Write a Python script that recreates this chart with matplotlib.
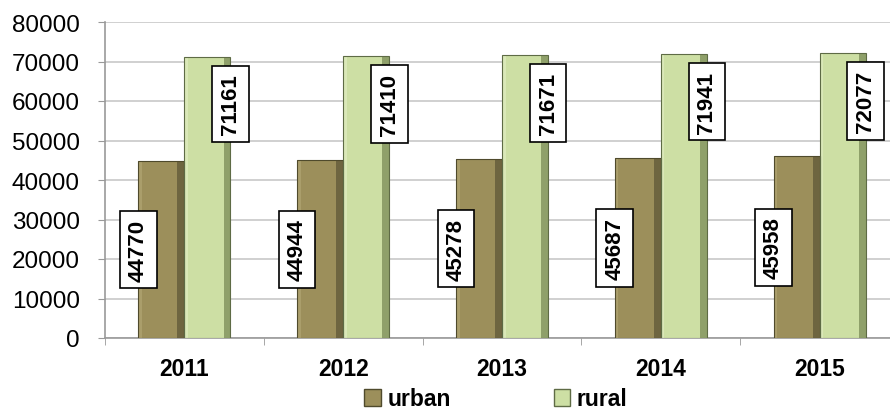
import matplotlib
matplotlib.use("Agg")
import matplotlib.pyplot as plt
import numpy as np
from matplotlib.patches import Rectangle

years = ["2011", "2012", "2013", "2014", "2015"]
urban = [44770, 44944, 45278, 45687, 45958]
rural = [71161, 71410, 71671, 71941, 72077]
yticks = [0, 10000, 20000, 30000, 40000, 50000, 60000, 70000, 80000]

plt.rcParams['font.family'] = ['Liberation Sans', 'DejaVu Sans']

label_size = 16
label_pad = 0.35

fig = plt.figure(figsize=(8.9, 4.14), dpi=100)
ax = fig.add_axes([105/890, 75/414, 794/890, 316/414])

x = np.arange(len(years))
w = 0.29
urban_c = "#9C8F5B"
rural_c = "#CDDFA4"

b1 = ax.bar(x - w/2, urban, w, color=urban_c, edgecolor="#4F4A2C", linewidth=0.8, zorder=3)
b2 = ax.bar(x + w/2, rural, w, color=rural_c, edgecolor="#5E6B45", linewidth=0.8, zorder=3)

# bevel-like shading on bars
for bars, c, dark, light in ((b1, urban_c, "#6E6540", "#B5A977"),
                             (b2, rural_c, "#8FA06A", "#E4EFC6")):
    for r in bars:
        bx, by = r.get_x(), r.get_y()
        bw, bh = r.get_width(), r.get_height()
        r.set_facecolor("none")
        r.set_zorder(4)
        ax.add_patch(Rectangle((bx, by), bw, bh, facecolor=c, edgecolor="none", zorder=3.2))
        ax.add_patch(Rectangle((bx + bw*0.85, by), bw*0.15, bh, facecolor=dark,
                               edgecolor="none", zorder=3.5))
        ax.add_patch(Rectangle((bx, by), bw*0.08, bh, facecolor=light,
                               edgecolor="none", zorder=3.5, alpha=0.6))

box = dict(boxstyle=f"square,pad={label_pad}", facecolor="white", edgecolor="black", linewidth=1.2)
for i in range(len(years)):
    ax.text(x[i] - w, urban[i] / 2, str(urban[i]), rotation=90, ha="center", va="center",
            fontsize=label_size, fontweight="bold", bbox=box, zorder=6)
    ax.annotate(str(rural[i]), xy=(x[i] + w, rural[i]),
                xytext=(0, -(6.5 + label_pad * label_size)),
                textcoords="offset points", rotation=90, ha="center", va="top",
                fontsize=label_size, fontweight="bold", bbox=box, zorder=6)

ax.set_xlim(-0.5, len(years) - 0.5)
ax.set_ylim(0, 80000)
ax.set_yticks(yticks)
ax.set_yticklabels([str(t) for t in yticks], fontsize=17.5)
ax.set_xticks(x)
ax.set_xticklabels(years, fontsize=16.5, fontweight="bold")
ax.set_xticks(np.arange(len(years) + 1) - 0.5, minor=True)
ax.tick_params(axis="x", which="major", length=0, pad=14)
ax.tick_params(axis="x", which="minor", length=5, color="#999999", direction="out")
ax.tick_params(axis="y", length=5, color="#999999", pad=13)
ax.yaxis.grid(True, color="#C8C8C8", linewidth=1.2, zorder=0)
ax.set_axisbelow(True)
for s in ["top", "right"]:
    ax.spines[s].set_visible(False)
for s in ["left", "bottom"]:
    ax.spines[s].set_color("#999999")
    ax.spines[s].set_linewidth(1.2)

handles = [Rectangle((0, 0), 1, 1, facecolor=urban_c, edgecolor="#4F4A2C"),
           Rectangle((0, 0), 1, 1, facecolor=rural_c, edgecolor="#5E6B45")]
fig.legend(handles, ["urban", "rural"], loc="center", bbox_to_anchor=(496/890, 1 - 400/414),
           ncol=2, frameon=False, prop=dict(size=16.5, weight="bold"),
           handlelength=0.7, handleheight=0.7, handletextpad=0.3, columnspacing=4.5,
           borderpad=0.1)

fig.savefig("out.png", dpi=100)
